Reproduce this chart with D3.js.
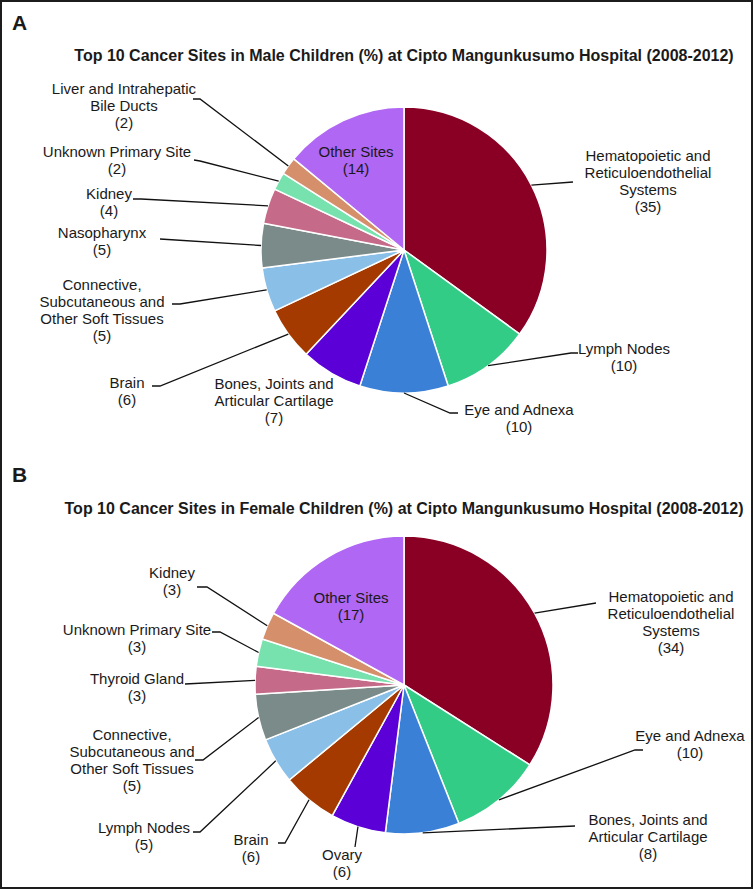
<!DOCTYPE html>
<html>
<head>
<meta charset="utf-8">
<script src="https://cdn.jsdelivr.net/npm/d3@7"></script>
<style>
  html, body { margin: 0; padding: 0; background: #fff; }
  svg { display: block; }
  text { font-family: "Liberation Sans", Arial, sans-serif; fill: #1a1a1a; }
</style>
</head>
<body>
<svg id="chart" width="756" height="890"></svg>
<script>
// ---------- DATA ----------
const maleTitle = "Top 10 Cancer Sites in Male Children (%) at Cipto Mangunkusumo Hospital (2008-2012)";
const maleSites = [
  "Hematopoietic and\nReticuloendothelial\nSystems",
  "Lymph Nodes",
  "Eye and Adnexa",
  "Bones, Joints and\nArticular Cartilage",
  "Brain",
  "Connective,\nSubcutaneous and\nOther Soft Tissues",
  "Nasopharynx",
  "Kidney",
  "Unknown Primary Site",
  "Liver and Intrahepatic\nBile Ducts",
  "Other Sites"
];
const maleValues = [35, 10, 10, 7, 6, 5, 5, 4, 2, 2, 14];

const femaleTitle = "Top 10 Cancer Sites in Female Children (%) at Cipto Mangunkusumo Hospital (2008-2012)";
const femaleSites = [
  "Hematopoietic and\nReticuloendothelial\nSystems",
  "Eye and Adnexa",
  "Bones, Joints and\nArticular Cartilage",
  "Ovary",
  "Brain",
  "Lymph Nodes",
  "Connective,\nSubcutaneous and\nOther Soft Tissues",
  "Thyroid Gland",
  "Unknown Primary Site",
  "Kidney",
  "Other Sites"
];
const femaleValues = [34, 10, 8, 6, 6, 5, 5, 3, 3, 3, 17];

const sliceColors = ["#8a0024", "#33cc86", "#3a80d6", "#5c00d8", "#a53a00",
                     "#8abfe7", "#7b8b89", "#c56a88", "#77e2ad", "#d58f6b", "#b067f3"];

// ---------- LAYOUT (label anchors: text centre x, first line y, leader elbow, leader end) ----------
const maleLabels = [
  {tx: 648, ty: 155, pts: [[573, 182]]},
  {tx: 624, ty: 348, pts: [[571, 353], [578, 353]]},
  {tx: 519, ty: 409, pts: [[450, 413], [458, 413]]},
  {tx: 274, ty: 383, pts: null},
  {tx: 127, ty: 382, pts: [[160, 386], [152, 386]]},
  {tx: 102, ty: 284, pts: [[180, 304], [172, 304]]},
  {tx: 102, ty: 232, pts: [[160, 239]]},
  {tx: 109, ty: 193, pts: [[141, 199], [133, 199]]},
  {tx: 117, ty: 151, pts: [[200, 161], [194, 160]]},
  {tx: 124, ty: 88,  pts: [[200, 99], [193, 99]]},
  {tx: 356, ty: 151, pts: null}
];
const femaleLabels = [
  {tx: 671, ty: 596, pts: [[596, 603]]},
  {tx: 690, ty: 735, pts: [[635, 750], [643, 750]]},
  {tx: 648, ty: 819, pts: [[575, 826]]},
  {tx: 342, ty: 854, pts: [[355, 847]]},
  {tx: 251, ty: 839, pts: [[285, 843], [278, 843]]},
  {tx: 144, ty: 827, pts: [[200, 832], [193, 832]]},
  {tx: 132, ty: 734, pts: [[203, 760], [195, 760]]},
  {tx: 137, ty: 678, pts: [[185, 684]]},
  {tx: 137, ty: 629, pts: [[220, 632], [212, 632]]},
  {tx: 172, ty: 572, pts: [[207, 587], [197, 587]]},
  {tx: 351, ty: 597, pts: null}
];

const svg = d3.select("#chart");

// outer border
svg.append("rect")
  .attr("x", 1).attr("y", 1).attr("width", 751).attr("height", 887)
  .attr("fill", "none").attr("stroke", "#1c1c1c").attr("stroke-width", 2);

function drawPanel(letter, letterY, title, titleY, sites, values, labels, cx, cy, r) {
  const g = svg.append("g");
  g.append("text").attr("x", 12).attr("y", letterY)
    .attr("font-size", 21).attr("font-weight", "bold").text(letter);
  g.append("text").attr("x", cx).attr("y", titleY)
    .attr("text-anchor", "middle").attr("font-size", 16).attr("font-weight", "bold").text(title);

  const pie = d3.pie().sort(null).value(d => d)(values);
  const arc = d3.arc().innerRadius(0).outerRadius(r);
  const pg = g.append("g").attr("transform", `translate(${cx},${cy})`);
  pg.selectAll("path").data(pie).join("path")
    .attr("d", arc)
    .attr("fill", (d, i) => sliceColors[i])
    .attr("stroke", "#fff").attr("stroke-width", 1.5).attr("stroke-linejoin", "round");

  pie.forEach((d, i) => {
    const L = labels[i];
    if (L.pts) {
      const a = (d.startAngle + d.endAngle) / 2;
      const start = [cx + r * Math.sin(a), cy - r * Math.cos(a)];
      g.append("path")
        .attr("d", d3.line()([start].concat(L.pts)))
        .attr("fill", "none").attr("stroke", "#111").attr("stroke-width", 1.3);
    }
    const lines = sites[i].split("\n").concat([`(${values[i]})`]);
    const t = g.append("text").attr("text-anchor", "middle").attr("font-size", 15);
    lines.forEach((ln, k) => {
      t.append("tspan").attr("x", L.tx).attr("y", L.ty + k * 17 + 5.5).text(ln);
    });
  });
}

drawPanel("A", 30, maleTitle, 61, maleSites, maleValues, maleLabels, 404, 250, 143);
drawPanel("B", 482, femaleTitle, 514, femaleSites, femaleValues, femaleLabels, 404, 685, 149);
</script>
</body>
</html>
